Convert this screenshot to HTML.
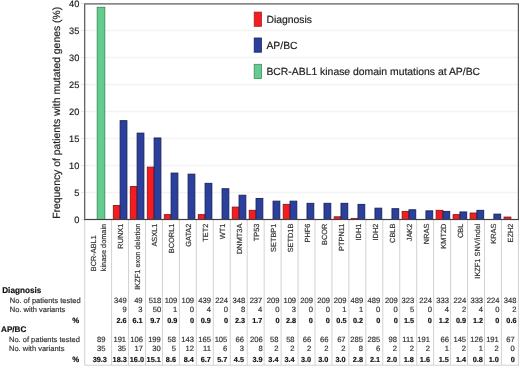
<!DOCTYPE html><html><head><meta charset="utf-8"><style>html,body{margin:0;padding:0;background:#fff;}svg{display:block;will-change:transform;}text{text-rendering:geometricPrecision;stroke-width:0.18px;font-family:"Liberation Sans", sans-serif;}</style></head><body>
<svg width="520" height="367" viewBox="0 0 520 367">
<rect width="520" height="367" fill="#fff"/>
<line x1="84.70" y1="192.50" x2="518.40" y2="192.50" stroke="#f3f3f3" stroke-width="1.3"/>
<line x1="84.70" y1="165.50" x2="518.40" y2="165.50" stroke="#f3f3f3" stroke-width="1.3"/>
<line x1="84.70" y1="138.50" x2="518.40" y2="138.50" stroke="#f3f3f3" stroke-width="1.3"/>
<line x1="84.70" y1="111.50" x2="518.40" y2="111.50" stroke="#f3f3f3" stroke-width="1.3"/>
<line x1="84.70" y1="84.50" x2="518.40" y2="84.50" stroke="#f3f3f3" stroke-width="1.3"/>
<line x1="84.70" y1="57.50" x2="518.40" y2="57.50" stroke="#f3f3f3" stroke-width="1.3"/>
<line x1="84.70" y1="30.50" x2="518.40" y2="30.50" stroke="#f3f3f3" stroke-width="1.3"/>
<line x1="81" y1="219.50" x2="84.70" y2="219.50" stroke="#e6e6e6" stroke-width="1"/>
<line x1="81" y1="192.50" x2="84.70" y2="192.50" stroke="#e6e6e6" stroke-width="1"/>
<line x1="81" y1="165.50" x2="84.70" y2="165.50" stroke="#e6e6e6" stroke-width="1"/>
<line x1="81" y1="138.50" x2="84.70" y2="138.50" stroke="#e6e6e6" stroke-width="1"/>
<line x1="81" y1="111.50" x2="84.70" y2="111.50" stroke="#e6e6e6" stroke-width="1"/>
<line x1="81" y1="84.50" x2="84.70" y2="84.50" stroke="#e6e6e6" stroke-width="1"/>
<line x1="81" y1="57.50" x2="84.70" y2="57.50" stroke="#e6e6e6" stroke-width="1"/>
<line x1="81" y1="30.50" x2="84.70" y2="30.50" stroke="#e6e6e6" stroke-width="1"/>
<line x1="81" y1="3.50" x2="84.70" y2="3.50" stroke="#e6e6e6" stroke-width="1"/>
<g stroke="#d2d2d2" stroke-width="1">
<line x1="84.70" y1="219.50" x2="84.70" y2="365.2"/>
<line x1="111.60" y1="219.50" x2="111.60" y2="365.2"/>
<line x1="128.55" y1="219.50" x2="128.55" y2="365.2"/>
<line x1="145.50" y1="219.50" x2="145.50" y2="365.2"/>
<line x1="162.45" y1="219.50" x2="162.45" y2="365.2"/>
<line x1="179.40" y1="219.50" x2="179.40" y2="365.2"/>
<line x1="196.35" y1="219.50" x2="196.35" y2="365.2"/>
<line x1="213.30" y1="219.50" x2="213.30" y2="365.2"/>
<line x1="230.25" y1="219.50" x2="230.25" y2="365.2"/>
<line x1="247.20" y1="219.50" x2="247.20" y2="365.2"/>
<line x1="264.15" y1="219.50" x2="264.15" y2="365.2"/>
<line x1="281.10" y1="219.50" x2="281.10" y2="365.2"/>
<line x1="298.05" y1="219.50" x2="298.05" y2="365.2"/>
<line x1="315.00" y1="219.50" x2="315.00" y2="365.2"/>
<line x1="331.95" y1="219.50" x2="331.95" y2="365.2"/>
<line x1="348.90" y1="219.50" x2="348.90" y2="365.2"/>
<line x1="365.85" y1="219.50" x2="365.85" y2="365.2"/>
<line x1="382.80" y1="219.50" x2="382.80" y2="365.2"/>
<line x1="399.75" y1="219.50" x2="399.75" y2="365.2"/>
<line x1="416.70" y1="219.50" x2="416.70" y2="365.2"/>
<line x1="433.65" y1="219.50" x2="433.65" y2="365.2"/>
<line x1="450.60" y1="219.50" x2="450.60" y2="365.2"/>
<line x1="467.55" y1="219.50" x2="467.55" y2="365.2"/>
<line x1="484.50" y1="219.50" x2="484.50" y2="365.2"/>
<line x1="501.45" y1="219.50" x2="501.45" y2="365.2"/>
<line x1="518.40" y1="219.50" x2="518.40" y2="365.2"/>
<line x1="84.70" y1="365.2" x2="519.00" y2="365.2"/>
</g>
<rect x="97.2" y="7.28" width="7.6" height="212.22" fill="#62cd8e" stroke="#3f8a5e" stroke-width="0.9"/>
<rect x="113.32" y="205.46" width="6.80" height="14.04" fill="#f61b1f" stroke="#8a1a1a" stroke-width="0.9"/>
<rect x="120.12" y="120.68" width="6.80" height="98.82" fill="#2b3f9c" stroke="#18225a" stroke-width="0.9"/>
<rect x="130.31" y="186.56" width="6.80" height="32.94" fill="#f61b1f" stroke="#8a1a1a" stroke-width="0.9"/>
<rect x="137.11" y="133.10" width="6.80" height="86.40" fill="#2b3f9c" stroke="#18225a" stroke-width="0.9"/>
<rect x="147.31" y="167.12" width="6.80" height="52.38" fill="#f61b1f" stroke="#8a1a1a" stroke-width="0.9"/>
<rect x="154.11" y="137.96" width="6.80" height="81.54" fill="#2b3f9c" stroke="#18225a" stroke-width="0.9"/>
<rect x="164.29" y="214.64" width="6.80" height="4.86" fill="#f61b1f" stroke="#8a1a1a" stroke-width="0.9"/>
<rect x="171.09" y="173.06" width="6.80" height="46.44" fill="#2b3f9c" stroke="#18225a" stroke-width="0.9"/>
<rect x="188.08" y="174.14" width="6.80" height="45.36" fill="#2b3f9c" stroke="#18225a" stroke-width="0.9"/>
<rect x="198.27" y="214.64" width="6.80" height="4.86" fill="#f61b1f" stroke="#8a1a1a" stroke-width="0.9"/>
<rect x="205.07" y="183.32" width="6.80" height="36.18" fill="#2b3f9c" stroke="#18225a" stroke-width="0.9"/>
<rect x="222.06" y="188.72" width="6.80" height="30.78" fill="#2b3f9c" stroke="#18225a" stroke-width="0.9"/>
<rect x="232.25" y="207.08" width="6.80" height="12.42" fill="#f61b1f" stroke="#8a1a1a" stroke-width="0.9"/>
<rect x="239.05" y="195.20" width="6.80" height="24.30" fill="#2b3f9c" stroke="#18225a" stroke-width="0.9"/>
<rect x="249.24" y="210.32" width="6.80" height="9.18" fill="#f61b1f" stroke="#8a1a1a" stroke-width="0.9"/>
<rect x="256.04" y="198.44" width="6.80" height="21.06" fill="#2b3f9c" stroke="#18225a" stroke-width="0.9"/>
<rect x="273.04" y="201.14" width="6.80" height="18.36" fill="#2b3f9c" stroke="#18225a" stroke-width="0.9"/>
<rect x="283.22" y="204.38" width="6.80" height="15.12" fill="#f61b1f" stroke="#8a1a1a" stroke-width="0.9"/>
<rect x="290.02" y="201.14" width="6.80" height="18.36" fill="#2b3f9c" stroke="#18225a" stroke-width="0.9"/>
<rect x="307.01" y="203.30" width="6.80" height="16.20" fill="#2b3f9c" stroke="#18225a" stroke-width="0.9"/>
<rect x="324.01" y="203.30" width="6.80" height="16.20" fill="#2b3f9c" stroke="#18225a" stroke-width="0.9"/>
<rect x="334.19" y="216.80" width="6.80" height="2.70" fill="#f61b1f" stroke="#8a1a1a" stroke-width="0.9"/>
<rect x="340.99" y="203.30" width="6.80" height="16.20" fill="#2b3f9c" stroke="#18225a" stroke-width="0.9"/>
<rect x="351.19" y="218.42" width="6.80" height="1.08" fill="#f61b1f" stroke="#8a1a1a" stroke-width="0.9"/>
<rect x="357.99" y="204.38" width="6.80" height="15.12" fill="#2b3f9c" stroke="#18225a" stroke-width="0.9"/>
<rect x="374.97" y="208.16" width="6.80" height="11.34" fill="#2b3f9c" stroke="#18225a" stroke-width="0.9"/>
<rect x="391.96" y="208.70" width="6.80" height="10.80" fill="#2b3f9c" stroke="#18225a" stroke-width="0.9"/>
<rect x="402.15" y="211.40" width="6.80" height="8.10" fill="#f61b1f" stroke="#8a1a1a" stroke-width="0.9"/>
<rect x="408.95" y="209.78" width="6.80" height="9.72" fill="#2b3f9c" stroke="#18225a" stroke-width="0.9"/>
<rect x="425.94" y="210.86" width="6.80" height="8.64" fill="#2b3f9c" stroke="#18225a" stroke-width="0.9"/>
<rect x="436.13" y="210.32" width="6.80" height="9.18" fill="#f61b1f" stroke="#8a1a1a" stroke-width="0.9"/>
<rect x="442.93" y="211.40" width="6.80" height="8.10" fill="#2b3f9c" stroke="#18225a" stroke-width="0.9"/>
<rect x="453.12" y="214.64" width="6.80" height="4.86" fill="#f61b1f" stroke="#8a1a1a" stroke-width="0.9"/>
<rect x="459.92" y="211.94" width="6.80" height="7.56" fill="#2b3f9c" stroke="#18225a" stroke-width="0.9"/>
<rect x="470.11" y="213.02" width="6.80" height="6.48" fill="#f61b1f" stroke="#8a1a1a" stroke-width="0.9"/>
<rect x="476.91" y="210.32" width="6.80" height="9.18" fill="#2b3f9c" stroke="#18225a" stroke-width="0.9"/>
<rect x="493.90" y="214.10" width="6.80" height="5.40" fill="#2b3f9c" stroke="#18225a" stroke-width="0.9"/>
<rect x="504.09" y="217.07" width="6.80" height="2.43" fill="#f61b1f" stroke="#8a1a1a" stroke-width="0.9"/>
<rect x="84.70" y="3.90" width="433.70" height="215.60" fill="none" stroke="#555" stroke-width="1.2"/>
<line x1="84.70" y1="219.50" x2="518.40" y2="219.50" stroke="#404040" stroke-width="1.2"/>
<text x="79.3" y="223.25" font-size="9.25" text-anchor="end" fill="#222" stroke="#222">0</text>
<text x="79.3" y="196.25" font-size="9.25" text-anchor="end" fill="#222" stroke="#222">5</text>
<text x="79.3" y="169.25" font-size="9.25" text-anchor="end" fill="#222" stroke="#222">10</text>
<text x="79.3" y="142.25" font-size="9.25" text-anchor="end" fill="#222" stroke="#222">15</text>
<text x="79.3" y="115.25" font-size="9.25" text-anchor="end" fill="#222" stroke="#222">20</text>
<text x="79.3" y="88.25" font-size="9.25" text-anchor="end" fill="#222" stroke="#222">25</text>
<text x="79.3" y="61.25" font-size="9.25" text-anchor="end" fill="#222" stroke="#222">30</text>
<text x="79.3" y="34.25" font-size="9.25" text-anchor="end" fill="#222" stroke="#222">35</text>
<text x="79.3" y="7.25" font-size="9.25" text-anchor="end" fill="#222" stroke="#222">40</text>
<text transform="translate(60.3,112.8) rotate(-90)" font-size="10.4" text-anchor="middle" fill="#222" stroke="#222">Frequency of patients with mutated genes (%)</text>
<rect x="254.2" y="12.10" width="7.2" height="14.2" fill="#f61b1f" stroke="#a02020" stroke-width="0.8"/>
<text x="266.4" y="22.80" font-size="10.4" fill="#222" stroke="#222">Diagnosis</text>
<rect x="254.2" y="38.00" width="7.2" height="14.2" fill="#2b3f9c" stroke="#18225a" stroke-width="0.8"/>
<text x="266.4" y="48.60" font-size="10.4" fill="#222" stroke="#222">AP/BC</text>
<rect x="254.2" y="64.30" width="7.2" height="14.2" fill="#62cd8e" stroke="#3f8a5e" stroke-width="0.8"/>
<text x="266.4" y="75.00" font-size="10.4" fill="#222" stroke="#222">BCR-ABL1 kinase domain mutations at AP/BC</text>
<text transform="translate(96.4,271.2) rotate(-90)" font-size="7.35" fill="#333" stroke="#333">BCR-ABL1</text>
<text transform="translate(105.5,271.2) rotate(-90)" font-size="7.35" fill="#333" stroke="#333">kinase domain</text>
<text transform="translate(123.07,223.6) rotate(-90)" font-size="7.4" text-anchor="end" fill="#333" stroke="#333">RUNX1</text>
<text transform="translate(140.02,223.6) rotate(-90)" font-size="7.4" text-anchor="end" fill="#333" stroke="#333">IKZF1 exon deletion</text>
<text transform="translate(156.97,223.6) rotate(-90)" font-size="7.4" text-anchor="end" fill="#333" stroke="#333">ASXL1</text>
<text transform="translate(173.92,223.6) rotate(-90)" font-size="7.4" text-anchor="end" fill="#333" stroke="#333">BCORL1</text>
<text transform="translate(190.87,223.6) rotate(-90)" font-size="7.4" text-anchor="end" fill="#333" stroke="#333">GATA2</text>
<text transform="translate(207.82,223.6) rotate(-90)" font-size="7.4" text-anchor="end" fill="#333" stroke="#333">TET2</text>
<text transform="translate(224.77,223.6) rotate(-90)" font-size="7.4" text-anchor="end" fill="#333" stroke="#333">WT1</text>
<text transform="translate(241.72,223.6) rotate(-90)" font-size="7.4" text-anchor="end" fill="#333" stroke="#333">DNMT3A</text>
<text transform="translate(258.67,223.6) rotate(-90)" font-size="7.4" text-anchor="end" fill="#333" stroke="#333">TP53</text>
<text transform="translate(275.62,223.6) rotate(-90)" font-size="7.4" text-anchor="end" fill="#333" stroke="#333">SETBP1</text>
<text transform="translate(292.57,223.6) rotate(-90)" font-size="7.4" text-anchor="end" fill="#333" stroke="#333">SETD1B</text>
<text transform="translate(310.02,223.6) rotate(-90)" font-size="7.4" text-anchor="end" fill="#333" stroke="#333">PHF6</text>
<text transform="translate(326.98,223.6) rotate(-90)" font-size="7.4" text-anchor="end" fill="#333" stroke="#333">BCOR</text>
<text transform="translate(343.92,223.6) rotate(-90)" font-size="7.4" text-anchor="end" fill="#333" stroke="#333">PTPN11</text>
<text transform="translate(360.88,223.6) rotate(-90)" font-size="7.4" text-anchor="end" fill="#333" stroke="#333">IDH1</text>
<text transform="translate(377.82,223.6) rotate(-90)" font-size="7.4" text-anchor="end" fill="#333" stroke="#333">IDH2</text>
<text transform="translate(394.77,223.6) rotate(-90)" font-size="7.4" text-anchor="end" fill="#333" stroke="#333">CBLB</text>
<text transform="translate(411.72,223.6) rotate(-90)" font-size="7.4" text-anchor="end" fill="#333" stroke="#333">JAK2</text>
<text transform="translate(428.67,223.6) rotate(-90)" font-size="7.4" text-anchor="end" fill="#333" stroke="#333">NRAS</text>
<text transform="translate(445.62,223.6) rotate(-90)" font-size="7.4" text-anchor="end" fill="#333" stroke="#333">KMT2D</text>
<text transform="translate(462.57,223.6) rotate(-90)" font-size="7.4" text-anchor="end" fill="#333" stroke="#333">CBL</text>
<text transform="translate(479.52,223.6) rotate(-90)" font-size="7.4" text-anchor="end" fill="#333" stroke="#333">IKZF1 SNV/indel</text>
<text transform="translate(496.47,223.6) rotate(-90)" font-size="7.4" text-anchor="end" fill="#333" stroke="#333">KRAS</text>
<text transform="translate(513.42,223.6) rotate(-90)" font-size="7.4" text-anchor="end" fill="#333" stroke="#333">EZH2</text>
<text x="2.2" y="292.6" font-size="8.2" font-weight="bold" fill="#111" stroke="#111">Diagnosis</text>
<text x="9.8" y="302.6" font-size="7.5" fill="#333" stroke="#333">No. of patients tested</text>
<text x="9.8" y="311.5" font-size="7.5" fill="#333" stroke="#333">No. with variants</text>
<text x="79.1" y="323.1" font-size="7.8" font-weight="bold" text-anchor="end" fill="#111" stroke="#111">%</text>
<text x="1.1" y="332.2" font-size="8.1" font-weight="bold" fill="#111" stroke="#111">AP/BC</text>
<text x="9.0" y="342.4" font-size="7.5" fill="#333" stroke="#333">No. of patients tested</text>
<text x="9.0" y="351.4" font-size="7.5" fill="#333" stroke="#333">No. with variants</text>
<text x="79.1" y="362.2" font-size="7.8" font-weight="bold" text-anchor="end" fill="#111" stroke="#111">%</text>
<text x="105.40" y="342.2" font-size="7.6" text-anchor="end" fill="#333" stroke="#333">89</text>
<text x="105.40" y="351.1" font-size="7.6" text-anchor="end" fill="#333" stroke="#333">35</text>
<text x="106.90" y="362.1" font-size="7.3" font-weight="bold" text-anchor="end" fill="#111" stroke="#111">39.3</text>
<text x="126.70" y="302.7" font-size="7.6" text-anchor="end" fill="#333" stroke="#333">349</text>
<text x="126.70" y="311.7" font-size="7.6" text-anchor="end" fill="#333" stroke="#333">9</text>
<text x="126.70" y="323.0" font-size="7.3" font-weight="bold" text-anchor="end" fill="#111" stroke="#111">2.6</text>
<text x="126.10" y="342.2" font-size="7.6" text-anchor="end" fill="#333" stroke="#333">191</text>
<text x="126.10" y="351.1" font-size="7.6" text-anchor="end" fill="#333" stroke="#333">35</text>
<text x="126.80" y="362.1" font-size="7.3" font-weight="bold" text-anchor="end" fill="#111" stroke="#111">18.3</text>
<text x="142.60" y="302.7" font-size="7.6" text-anchor="end" fill="#333" stroke="#333">49</text>
<text x="142.60" y="311.7" font-size="7.6" text-anchor="end" fill="#333" stroke="#333">3</text>
<text x="142.60" y="323.0" font-size="7.3" font-weight="bold" text-anchor="end" fill="#111" stroke="#111">6.1</text>
<text x="143.00" y="342.2" font-size="7.6" text-anchor="end" fill="#333" stroke="#333">106</text>
<text x="143.00" y="351.1" font-size="7.6" text-anchor="end" fill="#333" stroke="#333">17</text>
<text x="144.00" y="362.1" font-size="7.3" font-weight="bold" text-anchor="end" fill="#111" stroke="#111">16.0</text>
<text x="161.30" y="302.7" font-size="7.6" text-anchor="end" fill="#333" stroke="#333">518</text>
<text x="161.30" y="311.7" font-size="7.6" text-anchor="end" fill="#333" stroke="#333">50</text>
<text x="160.30" y="323.0" font-size="7.3" font-weight="bold" text-anchor="end" fill="#111" stroke="#111">9.7</text>
<text x="160.80" y="342.2" font-size="7.6" text-anchor="end" fill="#333" stroke="#333">199</text>
<text x="160.80" y="351.1" font-size="7.6" text-anchor="end" fill="#333" stroke="#333">30</text>
<text x="160.80" y="362.1" font-size="7.3" font-weight="bold" text-anchor="end" fill="#111" stroke="#111">15.1</text>
<text x="177.30" y="302.7" font-size="7.6" text-anchor="end" fill="#333" stroke="#333">109</text>
<text x="177.30" y="311.7" font-size="7.6" text-anchor="end" fill="#333" stroke="#333">1</text>
<text x="177.30" y="323.0" font-size="7.3" font-weight="bold" text-anchor="end" fill="#111" stroke="#111">0.9</text>
<text x="176.00" y="342.2" font-size="7.6" text-anchor="end" fill="#333" stroke="#333">58</text>
<text x="176.00" y="351.1" font-size="7.6" text-anchor="end" fill="#333" stroke="#333">5</text>
<text x="176.00" y="362.1" font-size="7.3" font-weight="bold" text-anchor="end" fill="#111" stroke="#111">8.6</text>
<text x="194.10" y="302.7" font-size="7.6" text-anchor="end" fill="#333" stroke="#333">109</text>
<text x="194.10" y="311.7" font-size="7.6" text-anchor="end" fill="#333" stroke="#333">0</text>
<text x="194.10" y="323.0" font-size="7.3" font-weight="bold" text-anchor="end" fill="#111" stroke="#111">0</text>
<text x="193.90" y="342.2" font-size="7.6" text-anchor="end" fill="#333" stroke="#333">143</text>
<text x="193.90" y="351.1" font-size="7.6" text-anchor="end" fill="#333" stroke="#333">12</text>
<text x="193.90" y="362.1" font-size="7.3" font-weight="bold" text-anchor="end" fill="#111" stroke="#111">8.4</text>
<text x="210.90" y="302.7" font-size="7.6" text-anchor="end" fill="#333" stroke="#333">439</text>
<text x="210.90" y="311.7" font-size="7.6" text-anchor="end" fill="#333" stroke="#333">4</text>
<text x="210.90" y="323.0" font-size="7.3" font-weight="bold" text-anchor="end" fill="#111" stroke="#111">0.9</text>
<text x="210.90" y="342.2" font-size="7.6" text-anchor="end" fill="#333" stroke="#333">165</text>
<text x="210.90" y="351.1" font-size="7.6" text-anchor="end" fill="#333" stroke="#333">11</text>
<text x="210.90" y="362.1" font-size="7.3" font-weight="bold" text-anchor="end" fill="#111" stroke="#111">6.7</text>
<text x="228.00" y="302.7" font-size="7.6" text-anchor="end" fill="#333" stroke="#333">224</text>
<text x="228.00" y="311.7" font-size="7.6" text-anchor="end" fill="#333" stroke="#333">0</text>
<text x="228.00" y="323.0" font-size="7.3" font-weight="bold" text-anchor="end" fill="#111" stroke="#111">0</text>
<text x="227.30" y="342.2" font-size="7.6" text-anchor="end" fill="#333" stroke="#333">105</text>
<text x="227.30" y="351.1" font-size="7.6" text-anchor="end" fill="#333" stroke="#333">6</text>
<text x="227.30" y="362.1" font-size="7.3" font-weight="bold" text-anchor="end" fill="#111" stroke="#111">5.7</text>
<text x="245.20" y="302.7" font-size="7.6" text-anchor="end" fill="#333" stroke="#333">348</text>
<text x="245.20" y="311.7" font-size="7.6" text-anchor="end" fill="#333" stroke="#333">8</text>
<text x="245.20" y="323.0" font-size="7.3" font-weight="bold" text-anchor="end" fill="#111" stroke="#111">2.3</text>
<text x="244.00" y="342.2" font-size="7.6" text-anchor="end" fill="#333" stroke="#333">66</text>
<text x="244.00" y="351.1" font-size="7.6" text-anchor="end" fill="#333" stroke="#333">3</text>
<text x="244.00" y="362.1" font-size="7.3" font-weight="bold" text-anchor="end" fill="#111" stroke="#111">4.5</text>
<text x="262.30" y="302.7" font-size="7.6" text-anchor="end" fill="#333" stroke="#333">237</text>
<text x="262.30" y="311.7" font-size="7.6" text-anchor="end" fill="#333" stroke="#333">4</text>
<text x="262.30" y="323.0" font-size="7.3" font-weight="bold" text-anchor="end" fill="#111" stroke="#111">1.7</text>
<text x="262.70" y="342.2" font-size="7.6" text-anchor="end" fill="#333" stroke="#333">206</text>
<text x="262.70" y="351.1" font-size="7.6" text-anchor="end" fill="#333" stroke="#333">8</text>
<text x="262.70" y="362.1" font-size="7.3" font-weight="bold" text-anchor="end" fill="#111" stroke="#111">3.9</text>
<text x="279.50" y="302.7" font-size="7.6" text-anchor="end" fill="#333" stroke="#333">209</text>
<text x="279.50" y="311.7" font-size="7.6" text-anchor="end" fill="#333" stroke="#333">0</text>
<text x="279.50" y="323.0" font-size="7.3" font-weight="bold" text-anchor="end" fill="#111" stroke="#111">0</text>
<text x="278.50" y="342.2" font-size="7.6" text-anchor="end" fill="#333" stroke="#333">58</text>
<text x="278.50" y="351.1" font-size="7.6" text-anchor="end" fill="#333" stroke="#333">2</text>
<text x="278.50" y="362.1" font-size="7.3" font-weight="bold" text-anchor="end" fill="#111" stroke="#111">3.4</text>
<text x="296.10" y="302.7" font-size="7.6" text-anchor="end" fill="#333" stroke="#333">109</text>
<text x="296.10" y="311.7" font-size="7.6" text-anchor="end" fill="#333" stroke="#333">3</text>
<text x="296.10" y="323.0" font-size="7.3" font-weight="bold" text-anchor="end" fill="#111" stroke="#111">2.8</text>
<text x="294.60" y="342.2" font-size="7.6" text-anchor="end" fill="#333" stroke="#333">58</text>
<text x="294.60" y="351.1" font-size="7.6" text-anchor="end" fill="#333" stroke="#333">2</text>
<text x="294.60" y="362.1" font-size="7.3" font-weight="bold" text-anchor="end" fill="#111" stroke="#111">3.4</text>
<text x="312.90" y="302.7" font-size="7.6" text-anchor="end" fill="#333" stroke="#333">209</text>
<text x="312.90" y="311.7" font-size="7.6" text-anchor="end" fill="#333" stroke="#333">0</text>
<text x="312.90" y="323.0" font-size="7.3" font-weight="bold" text-anchor="end" fill="#111" stroke="#111">0</text>
<text x="311.20" y="342.2" font-size="7.6" text-anchor="end" fill="#333" stroke="#333">66</text>
<text x="311.20" y="351.1" font-size="7.6" text-anchor="end" fill="#333" stroke="#333">2</text>
<text x="311.20" y="362.1" font-size="7.3" font-weight="bold" text-anchor="end" fill="#111" stroke="#111">3.0</text>
<text x="329.90" y="302.7" font-size="7.6" text-anchor="end" fill="#333" stroke="#333">209</text>
<text x="329.90" y="311.7" font-size="7.6" text-anchor="end" fill="#333" stroke="#333">0</text>
<text x="329.90" y="323.0" font-size="7.3" font-weight="bold" text-anchor="end" fill="#111" stroke="#111">0</text>
<text x="328.40" y="342.2" font-size="7.6" text-anchor="end" fill="#333" stroke="#333">66</text>
<text x="328.40" y="351.1" font-size="7.6" text-anchor="end" fill="#333" stroke="#333">2</text>
<text x="328.40" y="362.1" font-size="7.3" font-weight="bold" text-anchor="end" fill="#111" stroke="#111">3.0</text>
<text x="346.50" y="302.7" font-size="7.6" text-anchor="end" fill="#333" stroke="#333">209</text>
<text x="346.50" y="311.7" font-size="7.6" text-anchor="end" fill="#333" stroke="#333">1</text>
<text x="346.50" y="323.0" font-size="7.3" font-weight="bold" text-anchor="end" fill="#111" stroke="#111">0.5</text>
<text x="345.60" y="342.2" font-size="7.6" text-anchor="end" fill="#333" stroke="#333">67</text>
<text x="345.60" y="351.1" font-size="7.6" text-anchor="end" fill="#333" stroke="#333">2</text>
<text x="345.60" y="362.1" font-size="7.3" font-weight="bold" text-anchor="end" fill="#111" stroke="#111">3.0</text>
<text x="363.20" y="302.7" font-size="7.6" text-anchor="end" fill="#333" stroke="#333">489</text>
<text x="363.20" y="311.7" font-size="7.6" text-anchor="end" fill="#333" stroke="#333">1</text>
<text x="363.20" y="323.0" font-size="7.3" font-weight="bold" text-anchor="end" fill="#111" stroke="#111">0.2</text>
<text x="363.00" y="342.2" font-size="7.6" text-anchor="end" fill="#333" stroke="#333">285</text>
<text x="363.00" y="351.1" font-size="7.6" text-anchor="end" fill="#333" stroke="#333">8</text>
<text x="363.00" y="362.1" font-size="7.3" font-weight="bold" text-anchor="end" fill="#111" stroke="#111">2.8</text>
<text x="380.20" y="302.7" font-size="7.6" text-anchor="end" fill="#333" stroke="#333">489</text>
<text x="380.20" y="311.7" font-size="7.6" text-anchor="end" fill="#333" stroke="#333">0</text>
<text x="380.20" y="323.0" font-size="7.3" font-weight="bold" text-anchor="end" fill="#111" stroke="#111">0</text>
<text x="380.20" y="342.2" font-size="7.6" text-anchor="end" fill="#333" stroke="#333">285</text>
<text x="380.20" y="351.1" font-size="7.6" text-anchor="end" fill="#333" stroke="#333">6</text>
<text x="380.20" y="362.1" font-size="7.3" font-weight="bold" text-anchor="end" fill="#111" stroke="#111">2.1</text>
<text x="397.70" y="302.7" font-size="7.6" text-anchor="end" fill="#333" stroke="#333">209</text>
<text x="397.70" y="311.7" font-size="7.6" text-anchor="end" fill="#333" stroke="#333">0</text>
<text x="397.70" y="323.0" font-size="7.3" font-weight="bold" text-anchor="end" fill="#111" stroke="#111">0</text>
<text x="397.00" y="342.2" font-size="7.6" text-anchor="end" fill="#333" stroke="#333">98</text>
<text x="397.00" y="351.1" font-size="7.6" text-anchor="end" fill="#333" stroke="#333">2</text>
<text x="397.00" y="362.1" font-size="7.3" font-weight="bold" text-anchor="end" fill="#111" stroke="#111">2.0</text>
<text x="414.20" y="302.7" font-size="7.6" text-anchor="end" fill="#333" stroke="#333">323</text>
<text x="414.20" y="311.7" font-size="7.6" text-anchor="end" fill="#333" stroke="#333">5</text>
<text x="414.20" y="323.0" font-size="7.3" font-weight="bold" text-anchor="end" fill="#111" stroke="#111">1.5</text>
<text x="413.90" y="342.2" font-size="7.6" text-anchor="end" fill="#333" stroke="#333">111</text>
<text x="413.90" y="351.1" font-size="7.6" text-anchor="end" fill="#333" stroke="#333">2</text>
<text x="413.90" y="362.1" font-size="7.3" font-weight="bold" text-anchor="end" fill="#111" stroke="#111">1.8</text>
<text x="431.90" y="302.7" font-size="7.6" text-anchor="end" fill="#333" stroke="#333">224</text>
<text x="431.90" y="311.7" font-size="7.6" text-anchor="end" fill="#333" stroke="#333">0</text>
<text x="431.90" y="323.0" font-size="7.3" font-weight="bold" text-anchor="end" fill="#111" stroke="#111">0</text>
<text x="430.00" y="342.2" font-size="7.6" text-anchor="end" fill="#333" stroke="#333">191</text>
<text x="430.00" y="351.1" font-size="7.6" text-anchor="end" fill="#333" stroke="#333">2</text>
<text x="430.00" y="362.1" font-size="7.3" font-weight="bold" text-anchor="end" fill="#111" stroke="#111">1.6</text>
<text x="449.00" y="302.7" font-size="7.6" text-anchor="end" fill="#333" stroke="#333">333</text>
<text x="449.00" y="311.7" font-size="7.6" text-anchor="end" fill="#333" stroke="#333">4</text>
<text x="449.00" y="323.0" font-size="7.3" font-weight="bold" text-anchor="end" fill="#111" stroke="#111">1.2</text>
<text x="448.90" y="342.2" font-size="7.6" text-anchor="end" fill="#333" stroke="#333">66</text>
<text x="448.90" y="351.1" font-size="7.6" text-anchor="end" fill="#333" stroke="#333">1</text>
<text x="448.90" y="362.1" font-size="7.3" font-weight="bold" text-anchor="end" fill="#111" stroke="#111">1.5</text>
<text x="466.20" y="302.7" font-size="7.6" text-anchor="end" fill="#333" stroke="#333">224</text>
<text x="466.20" y="311.7" font-size="7.6" text-anchor="end" fill="#333" stroke="#333">2</text>
<text x="466.20" y="323.0" font-size="7.3" font-weight="bold" text-anchor="end" fill="#111" stroke="#111">0.9</text>
<text x="466.10" y="342.2" font-size="7.6" text-anchor="end" fill="#333" stroke="#333">145</text>
<text x="466.10" y="351.1" font-size="7.6" text-anchor="end" fill="#333" stroke="#333">2</text>
<text x="466.10" y="362.1" font-size="7.3" font-weight="bold" text-anchor="end" fill="#111" stroke="#111">1.4</text>
<text x="483.10" y="302.7" font-size="7.6" text-anchor="end" fill="#333" stroke="#333">333</text>
<text x="483.10" y="311.7" font-size="7.6" text-anchor="end" fill="#333" stroke="#333">4</text>
<text x="483.10" y="323.0" font-size="7.3" font-weight="bold" text-anchor="end" fill="#111" stroke="#111">1.2</text>
<text x="482.90" y="342.2" font-size="7.6" text-anchor="end" fill="#333" stroke="#333">126</text>
<text x="482.90" y="351.1" font-size="7.6" text-anchor="end" fill="#333" stroke="#333">1</text>
<text x="482.90" y="362.1" font-size="7.3" font-weight="bold" text-anchor="end" fill="#111" stroke="#111">0.8</text>
<text x="499.40" y="302.7" font-size="7.6" text-anchor="end" fill="#333" stroke="#333">224</text>
<text x="499.40" y="311.7" font-size="7.6" text-anchor="end" fill="#333" stroke="#333">0</text>
<text x="499.40" y="323.0" font-size="7.3" font-weight="bold" text-anchor="end" fill="#111" stroke="#111">0</text>
<text x="498.80" y="342.2" font-size="7.6" text-anchor="end" fill="#333" stroke="#333">191</text>
<text x="498.80" y="351.1" font-size="7.6" text-anchor="end" fill="#333" stroke="#333">2</text>
<text x="498.80" y="362.1" font-size="7.3" font-weight="bold" text-anchor="end" fill="#111" stroke="#111">1.0</text>
<text x="516.50" y="302.7" font-size="7.6" text-anchor="end" fill="#333" stroke="#333">348</text>
<text x="516.50" y="311.7" font-size="7.6" text-anchor="end" fill="#333" stroke="#333">2</text>
<text x="516.50" y="323.0" font-size="7.3" font-weight="bold" text-anchor="end" fill="#111" stroke="#111">0.6</text>
<text x="514.70" y="342.2" font-size="7.6" text-anchor="end" fill="#333" stroke="#333">67</text>
<text x="514.70" y="351.1" font-size="7.6" text-anchor="end" fill="#333" stroke="#333">0</text>
<text x="514.70" y="362.1" font-size="7.3" font-weight="bold" text-anchor="end" fill="#111" stroke="#111">0</text>
</svg></body></html>
